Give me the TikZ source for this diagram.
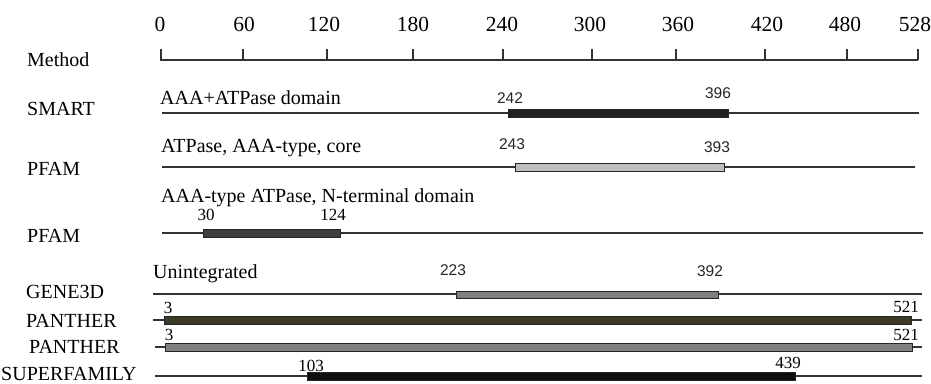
\documentclass[tikz,border=0pt]{standalone}
\usepackage{fontspec}
\setmainfont{Liberation Serif}
\newfontfamily\numsans{Liberation Sans}
\begin{document}
\begin{tikzpicture}[x=1pt,y=-1pt,
  lbl/.style={font=\fontsize{20}{24}\selectfont, anchor=base west, inner sep=0pt},
  desc/.style={font=\fontsize{20}{24}\selectfont, anchor=base west, inner sep=0pt},
  ticklbl/.style={font=\fontsize{21.5}{25}\selectfont, anchor=base, inner sep=0pt},
  snum/.style={font=\numsans\fontsize{15.5}{18}\selectfont, anchor=base, inner sep=0pt, text=black!85},
  rnum/.style={font=\fontsize{17}{20}\selectfont, anchor=base, inner sep=0pt},
  track/.style={draw=black!80, line width=1.1pt},
  bar/.style={draw=black!85, line width=0.9pt}]
\useasboundingbox (0,0) rectangle (931,383);
\fill[white] (0,0) rectangle (931,383);

% axis
\coordinate (ax0) at (160,60);
\coordinate (ax1) at (918,60);
\draw[track] (ax0) -- (ax1);
\foreach \tx/\lx/\t in {161/160/0,243/244/60,327/324/120,413/413/180,503/502/240,592/590/300,676/678/360,765/767/420,847/845/480,918/915/528}{
  \draw[track] (\tx,49) -- (\tx,60);
  \node[ticklbl] (t\t) at (\lx,31) {\t};
}
\node[lbl] (mMethod) at (27,66) {Method};

% SMART
\node[lbl] (mSmart) at (27,115) {SMART};
\node[desc] (dSmart) at (160,104) {AAA+ATPase domain};
\draw[track] (162,113) -- (919,113);
\draw[bar, fill=black!87] (508,109) rectangle (728,117);
\node[snum] (n242) at (510,103) {242};
\node[snum] (n396) at (718,98) {396};

% PFAM 1
\node[lbl] (mPfamA) at (27,175) {PFAM};
\node[desc] (dPfamA) at (161,152) {ATPase, AAA-type, core};
\draw[track] (162,167) -- (915,167);
\draw[bar, fill=black!25] (515,163) rectangle (724,171);
\node[snum] (n243) at (512,149) {243};
\node[snum] (n393) at (717,152) {393};

% PFAM 2
\node[lbl] (mPfamB) at (27,242) {PFAM};
\node[desc] (dPfamB) at (161,202) {AAA-type ATPase, N-terminal domain};
\draw[track] (162,233) -- (923,233);
\draw[bar, fill=black!75] (203,229) rectangle (340,237);
\node[rnum] (n30) at (206,220) {30};
\node[rnum] (n124) at (333,220) {124};

% GENE3D
\node[lbl] (mGene) at (26,298) {GENE3D};
\node[desc] (dGene) at (153,278) {Unintegrated};
\draw[track] (153,294) -- (922,294);
\draw[bar, fill=black!50] (456,291) rectangle (718,298);
\node[snum] (n223) at (453,275) {223};
\node[snum] (n392) at (710,276) {392};

% PANTHER 1
\node[lbl] (mPanA) at (26,327) {PANTHER};
\draw[track] (153,320) -- (922,320);
\draw[bar, fill={rgb,255:red,62;green,58;blue,40}] (164,316) rectangle (911,324);
\node[rnum] (n3a) at (168,313) {3};
\node[rnum] (n521a) at (906,312) {521};

% PANTHER 2
\node[lbl] (mPanB) at (29,353) {PANTHER};
\draw[track] (155,347) -- (922,347);
\draw[bar, fill=black!50] (165,343) rectangle (912,351);
\node[rnum] (n3b) at (169,340) {3};
\node[rnum] (n521b) at (906,340) {521};

% SUPERFAMILY
\node[lbl] (mSuper) at (1,380) {SUPERFAMILY};
\draw[track] (155,376) -- (922,376);
\draw[bar, fill=black!95] (307,372) rectangle (795,380);
\node[rnum] (n103) at (311,371) {103};
\node[rnum] (n439) at (788,368) {439};
\end{tikzpicture}
\end{document}
